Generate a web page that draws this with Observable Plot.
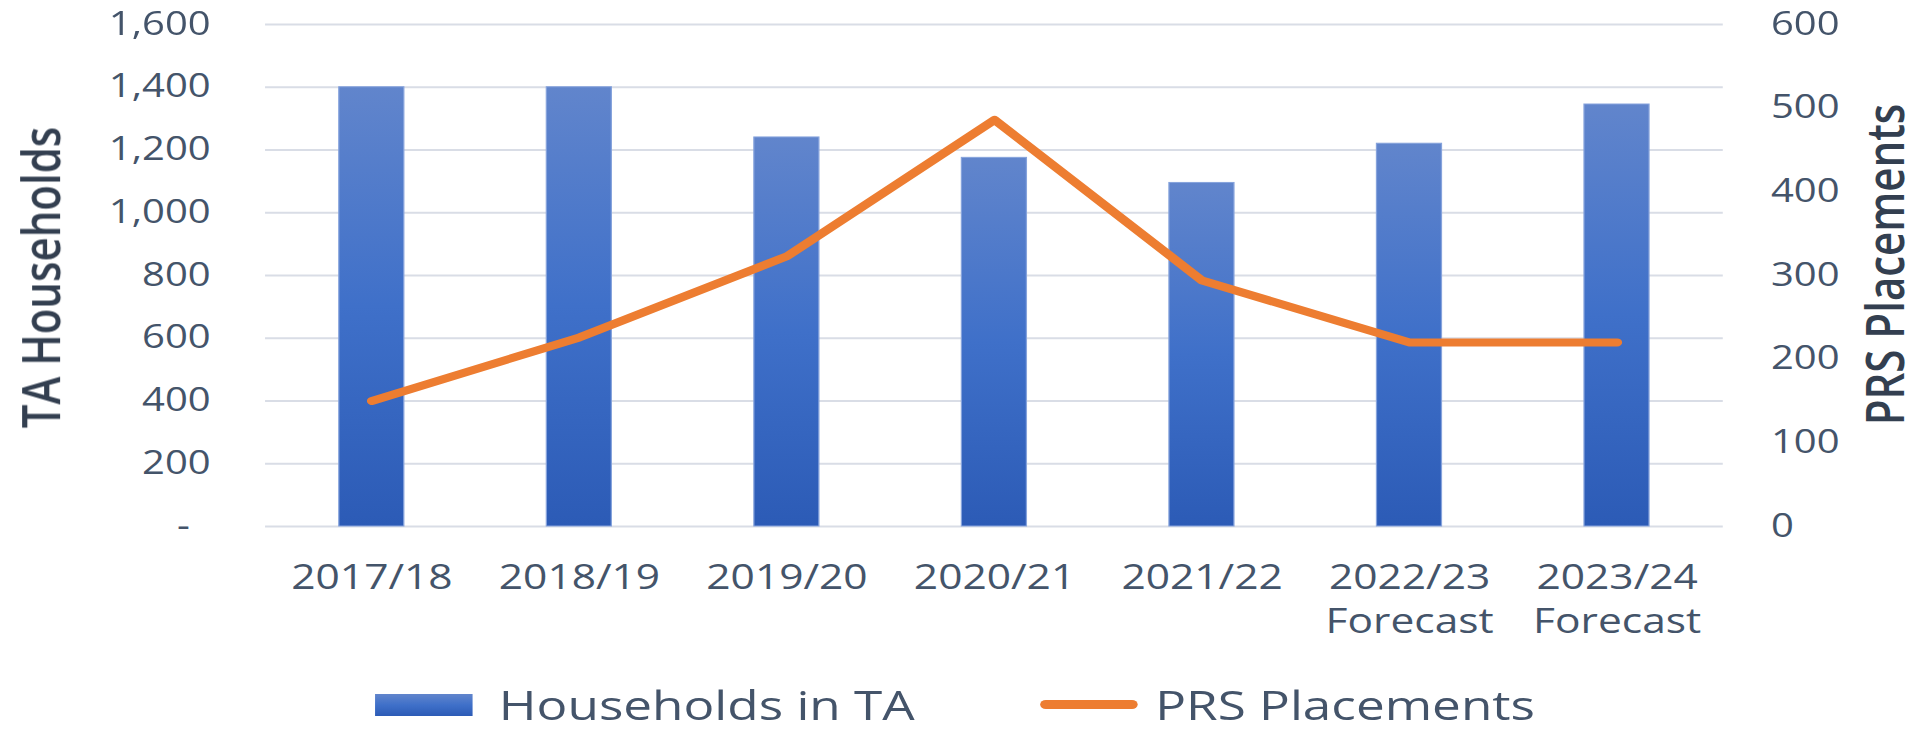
<!DOCTYPE html>
<html>
<head>
<meta charset="utf-8">
<script src="https://cdn.jsdelivr.net/npm/d3@7"></script>
<script src="https://cdn.jsdelivr.net/npm/@observablehq/plot@0.6"></script>
<style>
  html, body { margin: 0; padding: 0; background: #ffffff; }
  #outer { position: relative; width: 1924px; height: 733px; overflow: hidden; }
  /* the original chart is drawn horizontally stretched; reproduce that by scaling the whole figure */
  #wrap { position: absolute; left: 0; top: 0; width: 1539px; height: 733px;
          transform: scaleX(1.2502); transform-origin: 0 0; }
  .legend { position: absolute; left: 0; top: 676px; width: 1539px; height: 57px;
    font-family: "Open Sans", sans-serif; font-size: 41px; line-height: normal; color: #44546a; }
  .legend > * { position: absolute; }
  .legend .sw-bar { left: 300px; top: 18px; width: 78px; height: 22px; background: linear-gradient(#6185cc, #3f70c9 50%, #2c5bb6); }
  .legend .sw-line { left: 832px; top: 24px; width: 78px; height: 9px; border-radius: 5px; background: #ed7d31; }
  .legend .t1 { left: 399px; top: 0; white-space: nowrap; }
  .legend .t2 { left: 924px; top: 0; white-space: nowrap; }
</style>
</head>
<body>
<div id="outer"><div id="wrap"></div></div>
<script>
// ---- data ----
const years = ["2017/18", "2018/19", "2019/20", "2020/21", "2021/22", "2022/23\nForecast", "2023/24\nForecast"];
const householdsInTA = [1400, 1400, 1240, 1175, 1095, 1220, 1345];
const prsPlacements = [150, 226, 323, 486, 294, 220, 220];
const leftTicks = [0, 200, 400, 600, 800, 1000, 1200, 1400, 1600];
const rightTicks = [0, 100, 200, 300, 400, 500, 600];
const leftTitle = "TA Households";
const rightTitle = "PRS Placements";
const seriesNames = ["Households in TA", "PRS Placements"];

const leftMax = 1600, rightMax = 600;
const k = leftMax / rightMax;
const rows = years.map((year, i) => ({year, ta: householdsInTA[i], prs: prsPlacements[i]}));

const chart = Plot.plot({
  width: 1539,
  height: 660,
  marginTop: 24,
  marginBottom: 134,
  marginLeft: 212,
  marginRight: 161,
  style: {fontFamily: '"Open Sans", sans-serif', fontSize: "32px", color: "#44546a", background: "#ffffff", overflow: "visible"},
  x: {domain: years, paddingInner: 0.6875, paddingOuter: 0.34375, axis: null},
  y: {domain: [0, leftMax], axis: null},
  marks: [
    Plot.gridY(leftTicks, {stroke: "#d9dde6", strokeOpacity: 1, strokeWidth: 2}),
    Plot.barY(rows, {x: "year", y: "ta", fill: "url(#taGradient)", stroke: "#86a3dc", strokeWidth: 1}),
    Plot.line(rows, {x: "year", y: d => d.prs * k, stroke: "#ed7d31", strokeWidth: 8, strokeLinecap: "round", strokeLinejoin: "round"}),
    Plot.axisX({tickSize: 0, tickPadding: 31, fontSize: 34, lineHeight: 1.3, label: null}),
    Plot.axisY(leftTicks, {anchor: "left", tickSize: 0, tickPadding: 44, label: null,
      tickFormat: d => d === 0 ? "-\u00a0\u00a0" : d3.format(",")(d)}),
    Plot.axisY(rightTicks.map(v => v * k), {anchor: "right", tickSize: 0, tickPadding: 38, label: null,
      tickFormat: d => String(Math.round(d / k))}),
    Plot.text([leftTitle], {frameAnchor: "left", textAnchor: "middle", dx: -178, dy: 2, rotate: -90, fontSize: 42, fontWeight: 600,
      fontFamily: '"Open Sans", sans-serif', fill: "#333f50"}),
    Plot.text([rightTitle], {frameAnchor: "right", textAnchor: "middle", dx: 131, dy: -11, rotate: -90, fontSize: 42, fontWeight: 600,
      fontFamily: '"Open Sans", sans-serif', fill: "#333f50"})
  ]
});

const defs = d3.select(chart).insert("defs", ":first-child");
const grad = defs.append("linearGradient").attr("id", "taGradient")
  .attr("x1", 0).attr("y1", 0).attr("x2", 0).attr("y2", 1);
grad.append("stop").attr("offset", "0%").attr("stop-color", "#6185cc");
grad.append("stop").attr("offset", "50%").attr("stop-color", "#3f70c9");
grad.append("stop").attr("offset", "100%").attr("stop-color", "#2c5bb6");

const wrap = document.getElementById("wrap");
wrap.appendChild(chart);

const legend = document.createElement("div");
legend.className = "legend";
legend.innerHTML = `<div class="sw-bar"></div><span class="t1">${seriesNames[0]}</span><div class="sw-line"></div><span class="t2">${seriesNames[1]}</span>`;
wrap.appendChild(legend);
</script>
</body>
</html>
